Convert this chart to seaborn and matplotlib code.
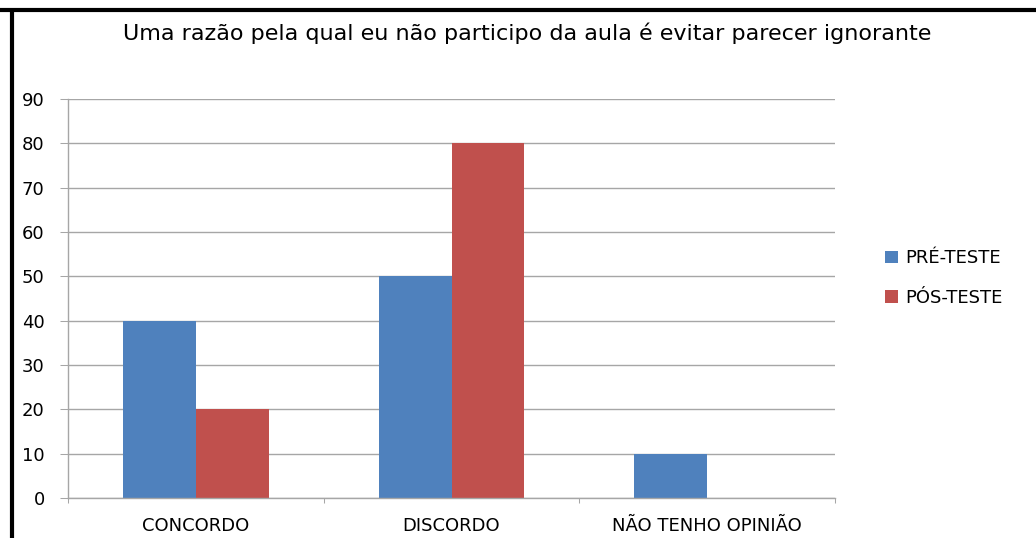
import matplotlib
matplotlib.use("Agg")
import matplotlib.pyplot as plt
import seaborn as sns
import pandas as pd
from matplotlib.patches import Patch
from matplotlib.lines import Line2D

categories = ["CONCORDO", "DISCORDO", "NÃO TENHO OPINIÃO"]
series = ["PRÉ-TESTE", "PÓS-TESTE"]
pre_teste = [40, 50, 10]
pos_teste = [20, 80, 0]
yticks = [0, 10, 20, 30, 40, 50, 60, 70, 80, 90]
title = "Uma razão pela qual eu não participo da aula é evitar parecer ignorante"

colors = ["#4F81BD", "#C0504D"]

df = pd.DataFrame({
    "categoria": categories * 2,
    "serie": [series[0]] * 3 + [series[1]] * 3,
    "valor": pre_teste + pos_teste,
})

sns.set_theme(style="white")
plt.rcParams["font.family"] = ["DejaVu Sans"]

fig = plt.figure(figsize=(10.36, 5.38), dpi=100)
ax = fig.add_axes([68 / 1036, 1 - 498 / 538, (835 - 68) / 1036, (498 - 99) / 538])

sns.barplot(data=df, x="categoria", y="valor", hue="serie", palette=colors,
            width=0.57, ax=ax, legend=False, saturation=1, linewidth=0)

ax.set_xlim(-0.5, 2.5)
ax.set_ylim(0, 90)
ax.set_yticks(yticks)
ax.set_yticklabels([str(v) for v in yticks], fontsize=13, color="#000000")
ax.set_xticks([0, 1, 2])
ax.set_xticklabels(categories, fontsize=13, color="#000000")
ax.set_xlabel("")
ax.set_ylabel("")

grid_c = "#A6A6A6"
ax.yaxis.grid(True, color=grid_c, linewidth=1)
ax.set_axisbelow(True)
for s in ["top", "right"]:
    ax.spines[s].set_visible(False)
for s in ["left", "bottom"]:
    ax.spines[s].set_color(grid_c)
    ax.spines[s].set_linewidth(1)

ax.tick_params(axis="y", which="major", left=True, length=5.8, width=0.75, color=grid_c, pad=11)
ax.tick_params(axis="x", which="major", bottom=True, length=0, pad=13.5)
# minor ticks at category boundaries
ax.set_xticks([-0.5, 0.5, 1.5, 2.5], minor=True)
ax.tick_params(axis="x", which="minor", bottom=True, length=3.8, width=0.75, color=grid_c)

fig.text(527 / 1036, 1 - 33 / 538, title, ha="center", va="center", fontsize=16, color="#000000")

handles = [Patch(facecolor=c, edgecolor="none") for c in colors]
fig.legend(handles, series, loc="center left", bbox_to_anchor=(869 / 1036, 1 - 278 / 538),
           frameon=False, fontsize=13, handlelength=0.7, handleheight=0.7,
           handletextpad=0.4, labelspacing=1.2, labelcolor="#000000")

# figure border (top and left)
fig.add_artist(Line2D([0, 1], [1 - 9.5 / 538, 1 - 9.5 / 538], transform=fig.transFigure,
                      color="#000000", linewidth=3))
fig.add_artist(Line2D([12 / 1036, 12 / 1036], [0, 1 - 9.5 / 538], transform=fig.transFigure,
                      color="#000000", linewidth=3))

fig.savefig("out.png", dpi=100)
